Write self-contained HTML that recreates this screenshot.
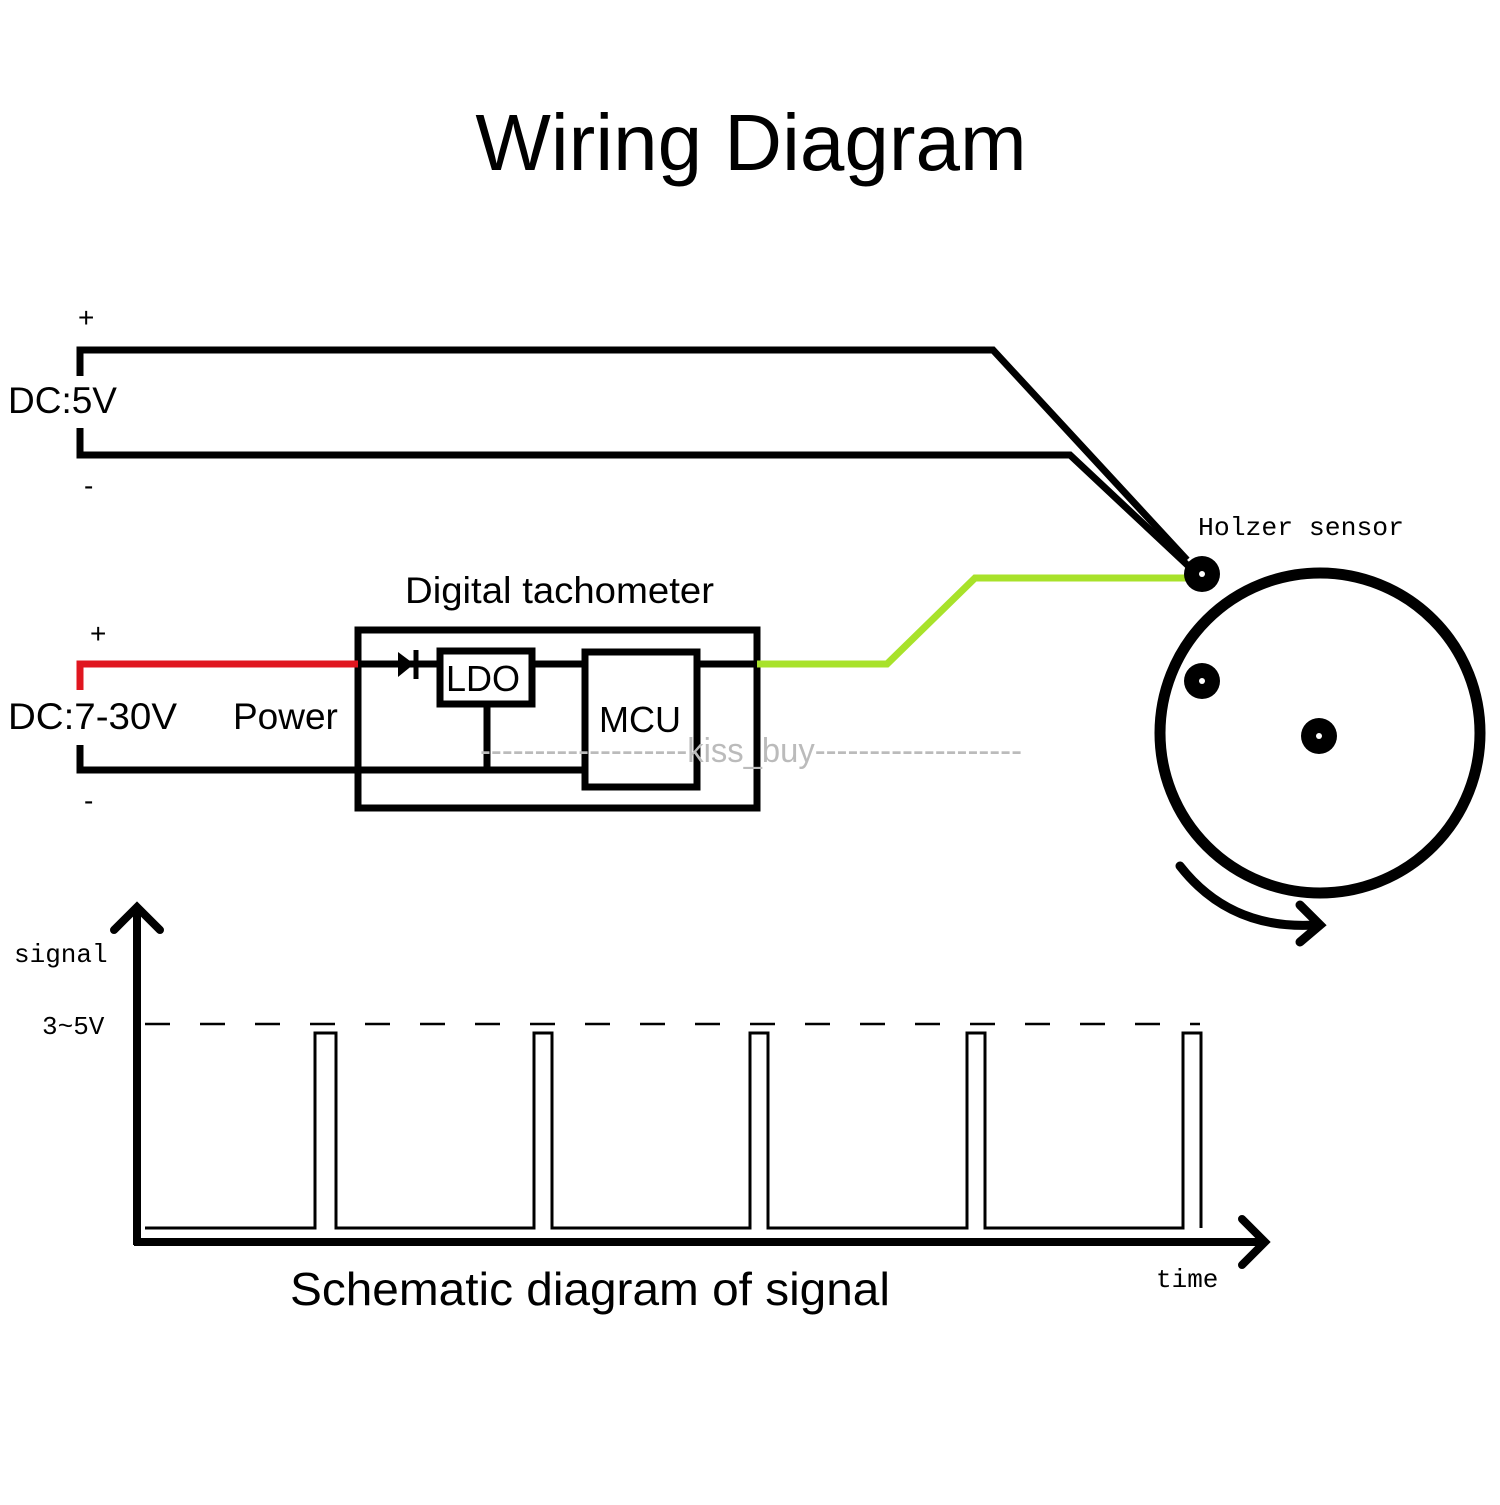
<!DOCTYPE html>
<html><head><meta charset="utf-8"><style>html,body{margin:0;padding:0;background:#fff}</style></head>
<body>
<svg width="1500" height="1500" viewBox="0 0 1500 1500" xmlns="http://www.w3.org/2000/svg">
<rect width="1500" height="1500" fill="#fff"/>
<text x="751" y="170" text-anchor="middle" font-family="Liberation Sans, sans-serif" font-size="80">Wiring Diagram</text>
<g font-family="Liberation Sans, sans-serif" font-size="37">
<text x="78" y="327" font-size="28">+</text>
<text x="8" y="413">DC:5V</text>
<text x="84" y="495" font-size="28">-</text>
<text x="90" y="643" font-size="28">+</text>
<text x="8" y="729" textLength="169" lengthAdjust="spacingAndGlyphs">DC:7-30V</text>
<text x="233" y="729">Power</text>
<text x="84" y="810" font-size="28">-</text>
<text x="405" y="603" textLength="309" lengthAdjust="spacingAndGlyphs">Digital tachometer</text>
<text x="446" y="691" font-size="36">LDO</text>
<text x="599" y="732" font-size="36">MCU</text>
<text x="290" y="1305" font-size="46" textLength="600" lengthAdjust="spacingAndGlyphs">Schematic diagram of signal</text>
</g>
<g font-family="Liberation Mono, monospace" font-size="26">
<text x="1198" y="535" textLength="206" lengthAdjust="spacingAndGlyphs">Holzer sensor</text>
<text x="14" y="962">signal</text>
<text x="42" y="1034">3~5V</text>
<text x="1156" y="1287">time</text>
</g>
<g fill="none" stroke="#000" stroke-width="7" stroke-linejoin="miter">
<polyline points="80,376 80,350 993,350 1187,560"/>
<polyline points="80,428 80,455 1070,455 1198,575"/>
<polyline points="80,745 80,770 358,770"/>
<rect x="358" y="630" width="399" height="178"/>
<line x1="358" y1="664" x2="440" y2="664"/>
<rect x="440" y="651" width="92" height="53"/>
<line x1="532" y1="664" x2="585" y2="664"/>
<rect x="585" y="652" width="112" height="135"/>
<line x1="697" y1="664" x2="757" y2="664"/>
<line x1="487" y1="704" x2="487" y2="770"/>
<line x1="358" y1="770" x2="585" y2="770"/>
<circle cx="1320" cy="733" r="160" stroke-width="11"/>
<path d="M1180,866 Q1230,930 1315,925" stroke-width="9" stroke-linecap="round"/>
<polyline points="1300,905 1320,925 1300,942" stroke-width="9" stroke-linecap="round"/>
<line x1="137" y1="908" x2="137" y2="1245" stroke-width="8"/>
<polyline points="114,930 137,907 160,930" stroke-width="8" stroke-linecap="round"/>
<line x1="134" y1="1242" x2="1265" y2="1242" stroke-width="8"/>
<polyline points="1242,1219 1265,1242 1242,1265" stroke-width="8" stroke-linecap="round"/>
<polyline stroke-width="3" points="145,1228 315,1228 315,1033 336,1033 336,1228 534,1228 534,1033 552,1033 552,1228 750,1228 750,1033 768,1033 768,1228 967,1228 967,1033 985,1033 985,1228 1183,1228 1183,1033 1201,1033 1201,1228"/>
<line x1="145" y1="1024" x2="1200" y2="1024" stroke-width="2.5" stroke-dasharray="25,30"/>
</g>
<polyline points="80,690 80,664 358,664" fill="none" stroke="#e0161f" stroke-width="7"/>
<polyline points="757,664 887,664 975,578 1190,578" fill="none" stroke="#a8e22a" stroke-width="7"/>
<polygon points="398,652 398,677 414,664" fill="#000"/>
<line x1="416" y1="650" x2="416" y2="679" stroke="#000" stroke-width="5"/>
<circle cx="1202" cy="574" r="18" fill="#000"/><circle cx="1202" cy="574" r="3" fill="#fff"/>
<circle cx="1202" cy="681" r="18" fill="#000"/><circle cx="1202" cy="681" r="3" fill="#fff"/>
<circle cx="1319" cy="736" r="18" fill="#000"/><circle cx="1319" cy="736" r="3" fill="#fff"/>
<text x="480" y="762" font-family="Liberation Sans, sans-serif" font-size="34" fill="#bbb" textLength="542" lengthAdjust="spacingAndGlyphs">-------------------kiss_buy-------------------</text>
</svg>
</body></html>
